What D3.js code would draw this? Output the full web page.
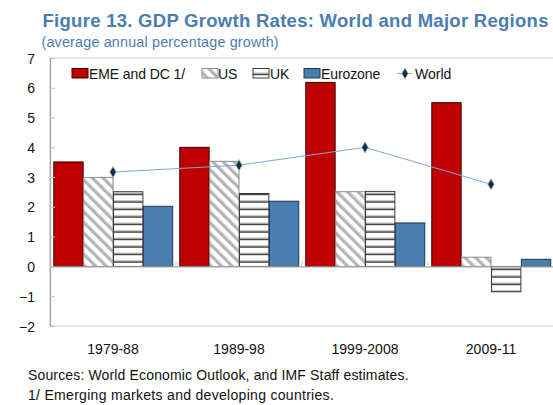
<!DOCTYPE html>
<html><head><meta charset="utf-8">
<script src="https://cdn.jsdelivr.net/npm/d3@7"></script>
<style>
body{margin:0;background:#fff;}
svg{display:block;font-family:"Liberation Sans",Arial,sans-serif;}
</style>
</head><body>
<svg id="chart" width="553" height="405"></svg>
<script>
// ---- data ----
const categories = ["1979-88", "1989-98", "1999-2008", "2009-11"];
const seriesNames = ["EME and DC 1/", "US", "UK", "Eurozone"];
const emeValues = [3.51, 4.0, 6.18, 5.5];
const usValues = [2.99, 3.53, 2.51, 0.31];
const ukValues = [2.51, 2.45, 2.52, -0.85];
const euroValues = [2.02, 2.19, 1.46, 0.24];
const worldName = "World";
const worldValues = [3.17, 3.4, 4.0, 2.76];
const yTicks = [-2, -1, 0, 1, 2, 3, 4, 5, 6, 7];
const titleText = "Figure 13. GDP Growth Rates: World and Major Regions";
const subtitleText = "(average annual percentage growth)";
const sourceText = "Sources: World Economic Outlook, and IMF Staff estimates.";
const noteText = "1/ Emerging markets and developing countries.";

// ---- layout ----
const svg = d3.select("#chart");
const plot = {left: 50, right: 554, top: 58, bottom: 326};
const seriesValues = [emeValues, usValues, ukValues, euroValues];
const seriesKeys = ["eme", "us", "uk", "euro"];

const x = d3.scaleBand().domain(categories).range([plot.left, plot.right]).padding(0);
const xs = d3.scaleBand().domain(seriesKeys).range([0, x.bandwidth()]).paddingInner(0).paddingOuter(0.11);
const y = d3.scaleLinear().domain([-2, 7]).range([plot.bottom, plot.top]);

// patterns
const defs = svg.append("defs");
const pUS = defs.append("pattern").attr("id", "hatchUS").attr("patternUnits", "userSpaceOnUse")
  .attr("width", 7.5).attr("height", 7.5).attr("patternTransform", "rotate(-45)");
pUS.append("rect").attr("width", 7.5).attr("height", 7.5).attr("fill", "#fff");
pUS.append("rect").attr("x", 0).attr("width", 3.2).attr("height", 7.5).attr("fill", "#b4b4b4");

const pUK = defs.append("pattern").attr("id", "hatchUK").attr("patternUnits", "userSpaceOnUse")
  .attr("width", 10).attr("height", 7.5).attr("y", 0.2);
pUK.append("rect").attr("width", 10).attr("height", 7.5).attr("fill", "#fff");
pUK.append("rect").attr("y", 5.2).attr("width", 10).attr("height", 1.1).attr("fill", "#9a9a9a");
pUK.append("rect").attr("y", 6.3).attr("width", 10).attr("height", 1.4).attr("fill", "#2e2e2e");

const styles = {
  eme: {fill: "#c00000", stroke: "#3a0000"},
  us: {fill: "url(#hatchUS)", stroke: "#8a8a8a"},
  uk: {fill: "url(#hatchUK)", stroke: "#3a3a3a"},
  euro: {fill: "#4a7eae", stroke: "#1f3652"}
};

// plot frame
svg.append("rect").attr("x", plot.left).attr("y", plot.top)
  .attr("width", plot.right - plot.left).attr("height", plot.bottom - plot.top)
  .attr("fill", "none").attr("stroke", "#d6d6d6").attr("stroke-width", 1.2);

// bars
const groups = svg.append("g").selectAll("g").data(categories).join("g")
  .attr("transform", d => `translate(${x(d)},0)`);
groups.selectAll("rect").data((c, i) => seriesKeys.map((k, s) => ({k, v: seriesValues[s][i]})))
  .join("rect")
  .attr("x", d => xs(d.k) + 0.5)
  .attr("width", xs.bandwidth() - 0.5)
  .attr("y", d => y(Math.max(0, d.v)))
  .attr("height", d => Math.abs(y(d.v) - y(0)))
  .attr("fill", d => styles[d.k].fill)
  .attr("stroke", d => styles[d.k].stroke)
  .attr("stroke-width", 1);

// zero axis
const xAxisG = svg.append("g").attr("transform", `translate(0,${y(0)})`)
  .call(d3.axisBottom(x).tickValues([]).tickSizeOuter(0));
xAxisG.select(".domain").attr("stroke", "#a6a6a6").attr("stroke-width", 1.2);
// separator ticks between categories
xAxisG.selectAll("line.sep").data(categories.slice(1)).join("line").attr("class", "sep")
  .attr("x1", d => x(d)).attr("x2", d => x(d)).attr("y1", -5).attr("y2", 0)
  .attr("stroke", "#c8c8c8").attr("stroke-width", 1);

// y axis
const yAxisG = svg.append("g").attr("transform", `translate(${plot.left},0)`)
  .call(d3.axisLeft(y).tickValues(yTicks).tickFormat(d3.format("d")).tickSize(-5).tickSizeOuter(0).tickPadding(15));
yAxisG.select(".domain").attr("stroke", "#a6a6a6").attr("stroke-width", 1.2);
yAxisG.selectAll(".tick line").attr("stroke", "#c0c0c0");
yAxisG.selectAll(".tick text").attr("font-size", 14).attr("fill", "#111")
  .attr("font-family", '"Liberation Sans",Arial,sans-serif').attr("dy", "0.36em");

// x category labels
const xLab = svg.append("g").attr("transform", `translate(0,${plot.bottom})`)
  .call(d3.axisBottom(x).tickSize(0).tickPadding(18));
xLab.select(".domain").remove();
xLab.selectAll(".tick text").attr("font-size", 14).attr("fill", "#111")
  .attr("font-family", '"Liberation Sans",Arial,sans-serif');

// world line
const line = d3.line().x((d, i) => x(categories[i]) + x.bandwidth() / 2).y(d => y(d));
svg.append("path").datum(worldValues).attr("d", line)
  .attr("fill", "none").attr("stroke", "#7fa6d8").attr("stroke-width", 1);
const diamond = d3.symbol().type(d3.symbolDiamond).size(36);
svg.append("g").selectAll("path").data(worldValues).join("path")
  .attr("d", diamond)
  .attr("transform", (d, i) => `translate(${x(categories[i]) + x.bandwidth() / 2},${y(d)})`)
  .attr("fill", "#0b2a5e").attr("stroke", "#b9c878").attr("stroke-width", 0.8);

// legend
const legendPos = [72, 202, 253, 304];
const legendTextPos = [89, 218, 270, 321];
const lg = svg.append("g");
seriesKeys.forEach((k, i) => {
  lg.append("rect").attr("x", legendPos[i]).attr("y", 68.5).attr("width", 16).attr("height", 9.5)
    .attr("fill", styles[k].fill).attr("stroke", styles[k].stroke).attr("stroke-width", 1);
  lg.append("text").attr("x", legendTextPos[i]).attr("y", 79).attr("font-size", 14)
    .attr("fill", "#111").attr("letter-spacing", -0.1).text(seriesNames[i]);
});
lg.append("line").attr("x1", 397).attr("x2", 412).attr("y1", 73.5).attr("y2", 73.5)
  .attr("stroke", "#7fa6d8").attr("stroke-width", 1);
lg.append("path").attr("d", diamond).attr("transform", "translate(405,73.5)")
  .attr("fill", "#0b2a5e").attr("stroke", "#b9c878").attr("stroke-width", 0.8);
lg.append("text").attr("x", 415).attr("y", 79).attr("font-size", 14).attr("fill", "#111").text(worldName);

// title
svg.append("text").attr("x", 42.5).attr("y", 26.7).attr("font-size", 18.5).attr("font-weight", "bold")
  .attr("letter-spacing", 0.28).attr("fill", "#4a7db0").text(titleText);
svg.append("text").attr("x", 41.5).attr("y", 47).attr("font-size", 14.3)
  .attr("letter-spacing", 0.2).attr("fill", "#4a7db0").text(subtitleText);

// footer
svg.append("text").attr("x", 28).attr("y", 380).attr("font-size", 14).attr("fill", "#111")
  .attr("letter-spacing", 0.15).text(sourceText);
svg.append("text").attr("x", 28).attr("y", 400).attr("font-size", 14).attr("fill", "#111")
  .attr("letter-spacing", 0.3).text(noteText);
</script>
</body></html>
